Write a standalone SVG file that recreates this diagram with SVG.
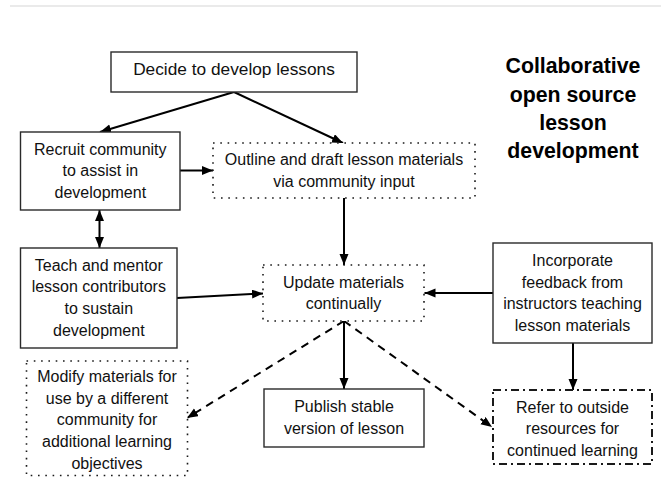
<svg xmlns="http://www.w3.org/2000/svg" width="661" height="477" viewBox="0 0 661 477">
  <defs>
    <marker id="head" markerUnits="userSpaceOnUse" markerWidth="12" markerHeight="10" refX="11" refY="4.5" orient="auto-start-reverse">
      <path d="M0,0 L11,4.5 L0,9 z" fill="#000"/>
    </marker>
    <style>
      .box { fill: #fff; stroke: #2a2a2a; stroke-width: 1.4; }
      .dotted { fill: #fff; stroke: #1a1a1a; stroke-width: 1.6; stroke-dasharray: 1.6 5.7; }
      .dashdot { fill: #fff; stroke: #1a1a1a; stroke-width: 2; stroke-dasharray: 8 4 2 4; }
      .label { font-family: "Liberation Sans", Arial, sans-serif; font-size: 16px; fill: #111; text-anchor: middle; }
      .big { font-size: 17.3px; }
      .title { font-family: "Liberation Sans", Arial, sans-serif; font-size: 21.3px; font-weight: bold; fill: #000; text-anchor: middle; }
      .arrow { fill: none; stroke: #000; stroke-width: 2; marker-end: url(#head); }
      .dashed { stroke-dasharray: 8 6; }
    </style>
  </defs>

  <!-- page rule -->
  <line x1="10" y1="6" x2="661" y2="6" stroke="#e3e3e3" stroke-width="1.5"/>

  <!-- heading -->
  <g id="title">
    <text class="title" x="573" y="73">Collaborative</text>
    <text class="title" x="573" y="101.5">open source</text>
    <text class="title" x="573" y="130">lesson</text>
    <text class="title" x="573" y="158">development</text>
  </g>

  <!-- connectors -->
  <g id="connectors">
    <line class="arrow" x1="234" y1="92" x2="100" y2="132"/>
    <line class="arrow" x1="234" y1="92" x2="343" y2="143"/>
    <line class="arrow" x1="180" y1="170.5" x2="213" y2="170.5"/>
    <line class="arrow" x1="99.5" y1="210" x2="99.5" y2="248" marker-start="url(#head)"/>
    <line class="arrow" x1="344" y1="198" x2="344" y2="265"/>
    <line class="arrow" x1="177" y1="298" x2="263" y2="293.5"/>
    <line class="arrow" x1="493" y1="293" x2="424.5" y2="293"/>
    <line class="arrow" x1="344" y1="321" x2="344" y2="389"/>
    <line class="arrow" x1="573" y1="343" x2="573" y2="390"/>
    <line class="arrow dashed" x1="344" y1="321" x2="187" y2="418"/>
    <line class="arrow dashed" x1="344" y1="321" x2="492" y2="427"/>
  </g>

  <g id="decide">
    <rect class="box" x="111" y="52" width="246" height="40"/>
    <text class="label big" x="234" y="74.5">Decide to develop lessons</text>
  </g>

  <g id="recruit">
    <rect class="box" x="20.5" y="132" width="159.5" height="78"/>
    <text class="label" x="100.3" y="154.5">Recruit community</text>
    <text class="label" x="100.3" y="176">to assist in</text>
    <text class="label" x="100.3" y="197.5">development</text>
  </g>

  <g id="outline">
    <rect class="dotted" x="213" y="143" width="262" height="55"/>
    <text class="label" x="344" y="165.2">Outline and draft lesson materials</text>
    <text class="label" x="344" y="186.9">via community input</text>
  </g>

  <g id="teach">
    <rect class="box" x="20.5" y="248" width="156.5" height="100"/>
    <text class="label" x="98.8" y="270.5">Teach and mentor</text>
    <text class="label" x="98.8" y="292.2">lesson contributors</text>
    <text class="label" x="98.8" y="313.9">to sustain</text>
    <text class="label" x="98.8" y="335.6">development</text>
  </g>

  <g id="update">
    <rect class="dotted" x="263" y="265" width="161" height="56"/>
    <text class="label" x="343.5" y="287.6">Update materials</text>
    <text class="label" x="343.5" y="309.3">continually</text>
  </g>

  <g id="incorporate">
    <rect class="box" x="493" y="243" width="159" height="100"/>
    <text class="label" x="572.5" y="265.8">Incorporate</text>
    <text class="label" x="572.5" y="287.5">feedback from</text>
    <text class="label" x="572.5" y="309.2">instructors teaching</text>
    <text class="label" x="572.5" y="330.9">lesson materials</text>
  </g>

  <g id="modify">
    <rect class="dotted" x="26.5" y="361" width="161" height="114.5"/>
    <text class="label" x="107" y="382">Modify materials for</text>
    <text class="label" x="107" y="403.7">use by a different</text>
    <text class="label" x="107" y="425.4">community for</text>
    <text class="label" x="107" y="447.1">additional learning</text>
    <text class="label" x="107" y="468.8">objectives</text>
  </g>

  <g id="publish">
    <rect class="box" x="264" y="389" width="160" height="58"/>
    <text class="label" x="344" y="412">Publish stable</text>
    <text class="label" x="344" y="433.7">version of lesson</text>
  </g>

  <g id="refer">
    <rect class="dashdot" x="493" y="390" width="159" height="74"/>
    <text class="label" x="572.5" y="412.5">Refer to outside</text>
    <text class="label" x="572.5" y="434.2">resources for</text>
    <text class="label" x="572.5" y="455.9">continued learning</text>
  </g>
</svg>
